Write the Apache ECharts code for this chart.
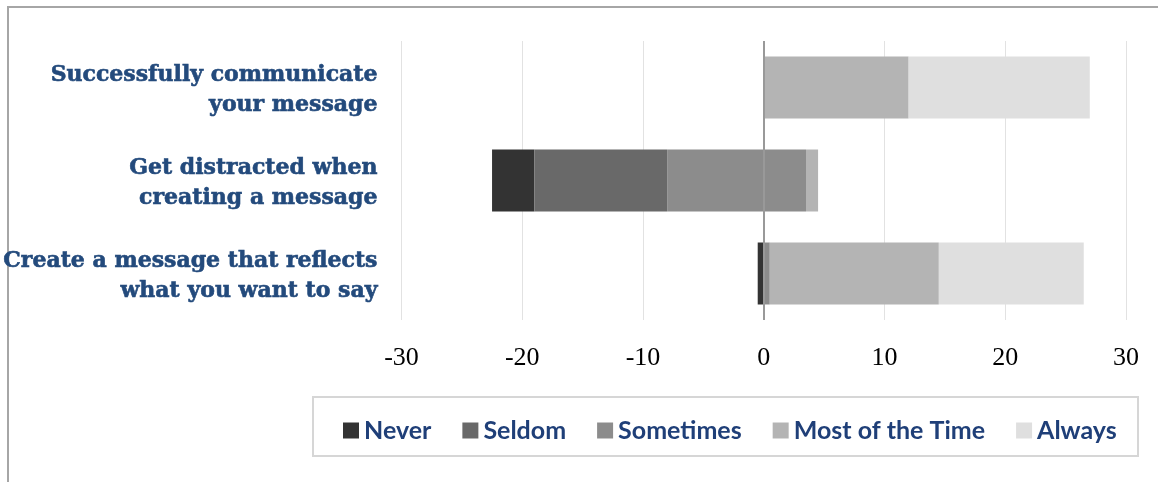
<!DOCTYPE html>
<html>
<head>
<meta charset="utf-8">
<script src="https://cdn.jsdelivr.net/npm/echarts@6/dist/echarts.min.js"></script>
<style>
  html, body { margin: 0; padding: 0; background: #ffffff; }
  #chart { width: 1158px; height: 482px; }
</style>
</head>
<body>
<div id="chart"></div>
<script>
// Survey statements, top to bottom
const categories = [
  'Successfully communicate\nyour message',
  'Get distracted when\ncreating a message',
  'Create a message that reflects\nwhat you want to say'
];

// Where each diverging bar starts (left end, in responses)
const offset = [0, -22.5, -0.5];

// Response counts per answer
const never = [0, 3.5, 0.5];
const seldom = [0, 11, 0];
const sometimes = [0, 11.5, 0.5];
const mostOfTheTime = [12, 1, 14];
const always = [15, 0, 12];

const answerNames = ['Never', 'Seldom', 'Sometimes', 'Most of the Time', 'Always'];
const answerColors = ['#333333', '#696969', '#8c8c8c', '#b4b4b4', '#dfdfdf'];
const answerValues = [never, seldom, sometimes, mostOfTheTime, always];

// Value axis ticks
const axisMin = -30, axisMax = 30, axisStep = 10;

const chart = echarts.init(document.getElementById('chart'), null, { renderer: 'canvas' });

const series = [{
  name: 'offset',
  type: 'bar',
  stack: 'resp',
  stackStrategy: 'all',
  barWidth: 62,
  silent: true,
  itemStyle: { color: 'rgba(0,0,0,0)' },
  data: offset
}];

answerNames.forEach((name, i) => {
  const s = {
    name: name,
    type: 'bar',
    stack: 'resp',
    stackStrategy: 'all',
    barWidth: 62,
    itemStyle: { color: answerColors[i] },
    data: answerValues[i]
  };
  if (i === answerNames.length - 1) {
    // zero reference line drawn over the bars
    s.markLine = {
      silent: true,
      symbol: 'none',
      label: { show: false },
      lineStyle: { color: '#999999', width: 2, type: 'solid' },
      data: [{ xAxis: 0 }]
    };
  }
  series.push(s);
});

const labelStyle = {
  color: '#234a7c',
  fontFamily: 'DejaVu Serif',
  fontWeight: 'bold',
  fontSize: 22,
  lineHeight: 30,
  align: 'right',
  textBorderColor: '#234a7c',
  textBorderWidth: 0.6
};

const option = {
  backgroundColor: '#ffffff',
  animation: false,
  grid: { left: 400, right: 32, top: 41, bottom: 162, containLabel: false },
  xAxis: {
    type: 'value',
    min: axisMin,
    max: axisMax,
    interval: axisStep,
    axisLine: { show: false },
    axisTick: { show: false },
    splitLine: { show: true, lineStyle: { color: '#e2e2e2', width: 1 } },
    axisLabel: {
      margin: 25,
      color: '#000000',
      fontFamily: 'Liberation Serif',
      fontSize: 26
    }
  },
  yAxis: {
    type: 'category',
    inverse: true,
    data: categories,
    axisLine: { show: false, onZero: false },
    axisTick: { show: false },
    splitLine: { show: false },
    axisLabel: {
      margin: 24,
      align: 'right',
      // a thin spacer line on top nudges the two-line block slightly downward
      formatter: v => '{s| }\n' + v.split('\n').map(l => '{t|' + l + '}').join('\n'),
      rich: {
        s: { fontSize: 1, lineHeight: 6 },
        t: labelStyle
      }
    }
  },
  legend: {
    data: answerNames,
    left: 343,
    top: 418,
    itemGap: 31,
    itemWidth: 16,
    itemHeight: 16,
    icon: 'rect',
    padding: 0,
    textStyle: {
      color: '#1f3f78',
      fontFamily: 'Lato',
      fontWeight: 'bold',
      fontSize: 25
    }
  },
  graphic: [
    // outer frame: top and left edges
    { type: 'line', shape: { x1: 7, y1: 7, x2: 1158, y2: 7 }, style: { stroke: '#a6a6a6', lineWidth: 2 }, silent: true },
    { type: 'line', shape: { x1: 8, y1: 7, x2: 8, y2: 482 }, style: { stroke: '#a6a6a6', lineWidth: 2 }, silent: true },
    // legend box
    { type: 'rect', shape: { x: 313, y: 397, width: 825, height: 59 }, style: { fill: 'none', stroke: '#d6d6d6', lineWidth: 2 }, silent: true, z: -1 }
  ],
  series: series
};

chart.setOption(option);
</script>
</body>
</html>
